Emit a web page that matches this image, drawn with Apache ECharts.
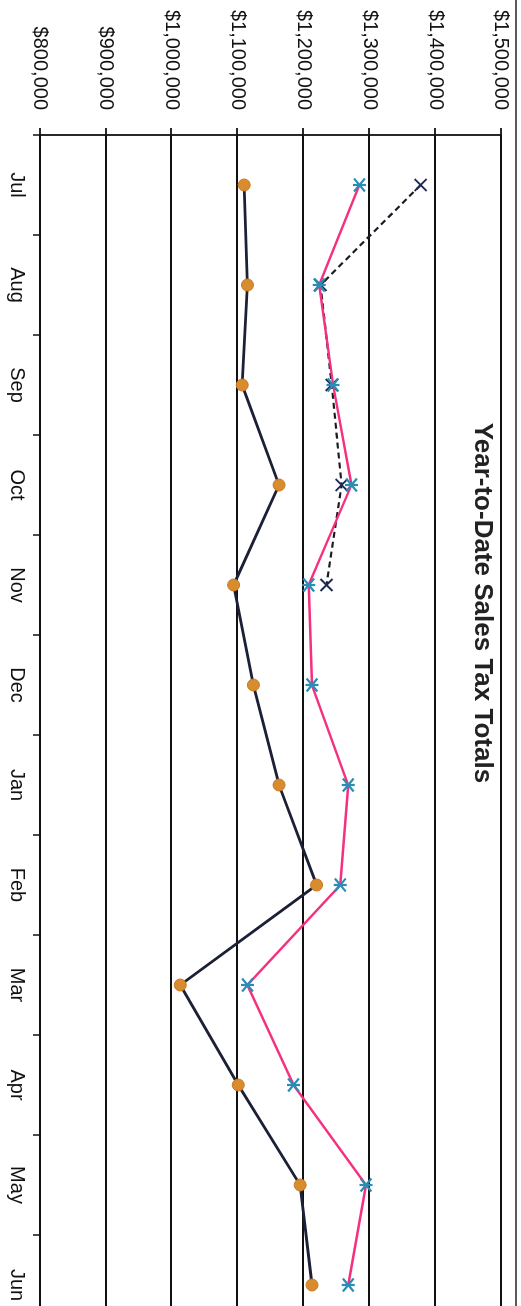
<!DOCTYPE html>
<html>
<head>
<meta charset="utf-8">
<script src="https://cdn.jsdelivr.net/npm/echarts@6/dist/echarts.min.js"></script>
<style>
html,body{margin:0;padding:0;overflow:hidden;background:#fff;width:521px;height:1306px;}
#wrap{position:absolute;left:0;top:0;width:1306px;height:521px;transform-origin:0 0;transform:translate(521px,0) rotate(90deg);}
#chart{width:1306px;height:521px;}
</style>
</head>
<body>
<div id="wrap"><div id="chart"></div></div>
<script>
const months = ['Jul','Aug','Sep','Oct','Nov','Dec','Jan','Feb','Mar','Apr','May','Jun'];
const valueTicks = [800000, 900000, 1000000, 1100000, 1200000, 1300000, 1400000, 1500000];
const seriesNavy = [1110000, 1115000, 1107000, 1163000, 1094000, 1124000, 1163000, 1220000, 1013000, 1101000, 1195000, 1213000];
const seriesPink = [1285000, 1224000, 1245000, 1273000, 1208000, 1213000, 1268000, 1256000, 1115000, 1185000, 1295000, 1268000];
const seriesDashed = [1378000, 1226000, 1243000, 1258000, 1235000, null, null, null, null, null, null, null];
const titleText = 'Year-to-Date Sales Tax Totals';

const chart = echarts.init(document.getElementById('chart'), null, {renderer: 'canvas'});
const fmt = v => '$' + v.toLocaleString('en-US');
const font = 'Liberation Sans, Arial, Helvetica, sans-serif';

chart.setOption({
  backgroundColor: '#fff',
  animation: false,
  title: {
    text: titleText,
    left: 598, top: 21, textAlign: 'center',
    textStyle: {fontFamily: font, fontSize: 26, fontWeight: 'bold', color: '#222'}
  },
  grid: {left: 135, width: 1200, top: 20, height: 461, containLabel: false, outerBoundsMode: 'none'},
  xAxis: {
    type: 'category',
    data: months,
    boundaryGap: true,
    axisLine: {show: false},
    axisTick: {show: true, length: 7, lineStyle: {color: '#111', width: 1.5}},
    axisLabel: {fontFamily: font, fontSize: 20, color: '#111', margin: 13},
    splitLine: {show: false}
  },
  yAxis: {
    type: 'value',
    min: valueTicks[0], max: valueTicks[valueTicks.length - 1], interval: 100000,
    axisLine: {show: true, lineStyle: {color: '#111', width: 1.8}},
    axisTick: {show: true, length: 7, lineStyle: {color: '#111', width: 1.8}},
    axisLabel: {fontFamily: font, fontSize: 20, color: '#111', margin: 25, formatter: fmt},
    splitLine: {show: true, lineStyle: {color: '#111', width: 1.8}}
  },
  graphic: [{
    type: 'line', shape: {x1: 0, y1: 5, x2: 1306, y2: 5},
    style: {stroke: '#222', lineWidth: 1.5}
  }],
  series: [
    {
      type: 'line', data: seriesNavy, z: 3,
      lineStyle: {color: '#1b2036', width: 2.8},
      symbol: 'circle', symbolSize: 12,
      itemStyle: {color: '#d98c2e', borderColor: '#c97a22', borderWidth: 1}
    },
    {
      type: 'line', data: seriesDashed, z: 2,
      lineStyle: {color: '#1a1a22', width: 2.2, type: [6, 4]},
      symbol: 'path://M0,0L10,10M10,0L0,10', symbolSize: 12,
      itemStyle: {color: 'rgba(0,0,0,0)', borderColor: '#1d2a55', borderWidth: 2}
    },
    {
      type: 'line', data: seriesPink, z: 4,
      lineStyle: {color: '#f5307f', width: 2.4},
      symbol: 'path://M0,0L10,10M10,0L0,10M5,-1L5,11', symbolSize: 13,
      itemStyle: {color: 'rgba(0,0,0,0)', borderColor: '#2a8db3', borderWidth: 2.2}
    }
  ]
});
</script>
</body>
</html>
